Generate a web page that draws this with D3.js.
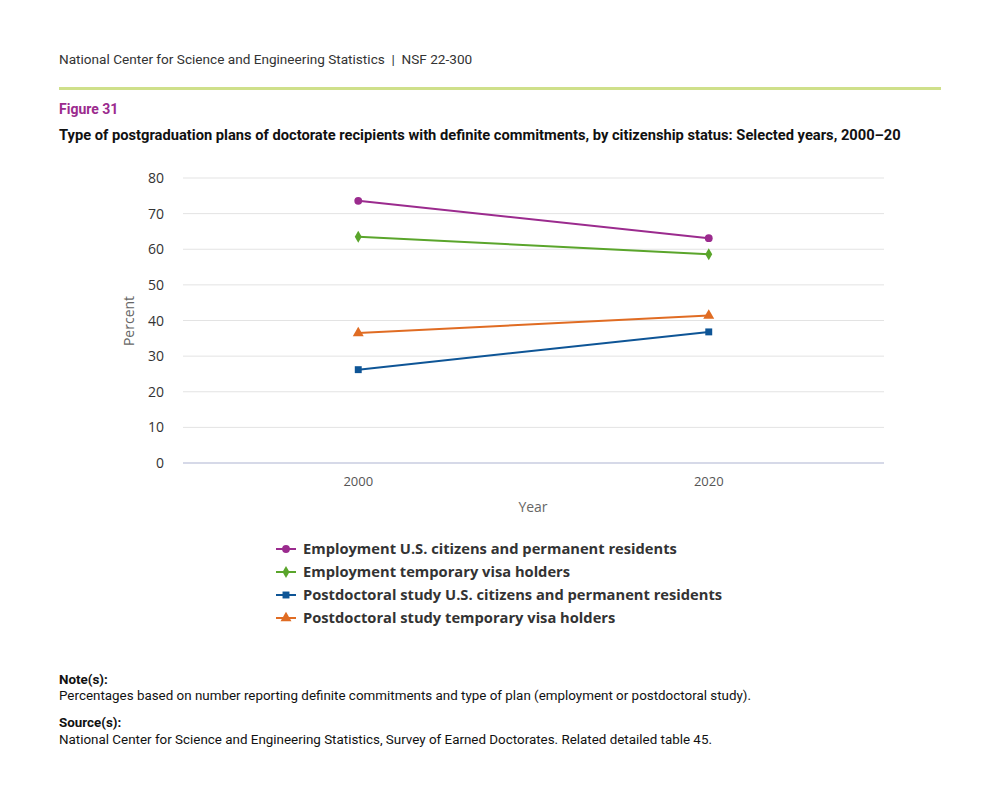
<!DOCTYPE html>
<html><head><meta charset="utf-8">
<script src="https://cdn.jsdelivr.net/npm/d3@7"></script>
<style>body{margin:0;background:#fff}</style>
</head><body>
<svg id="c" width="999" height="812"></svg>
<script>
const years = ["2000", "2020"]
const seriesNames = [
  "Employment U.S. citizens and permanent residents",
  "Employment temporary visa holders",
  "Postdoctoral study U.S. citizens and permanent residents",
  "Postdoctoral study temporary visa holders"
]
const employmentUS = [73.6, 63.1]
const employmentVisa = [63.5, 58.6]
const postdocUS = [26.2, 36.8]
const postdocVisa = [36.5, 41.4]
const yTicks = [0, 10, 20, 30, 40, 50, 60, 70, 80]

const colors = ["#9b2b8e", "#5aa52b", "#0e5596", "#e06c23"]
const symbols = [d3.symbolCircle, d3.symbolDiamond, d3.symbolSquare, d3.symbolTriangle]
const sizes = [48, 42, 48, 52]
const series = [employmentUS, employmentVisa, postdocUS, postdocVisa]

const svg = d3.select("#c")
const sans = "Roboto, sans-serif"
const open = "'Open Sans', sans-serif"

// header
svg.append("text").attr("x", 59).attr("y", 64).attr("font-family", sans).attr("font-size", 13.6)
  .attr("fill", "#333").style("white-space", "pre")
  .text("National Center for Science and Engineering Statistics  |  NSF 22-300")
svg.append("rect").attr("x", 59).attr("y", 87).attr("width", 882).attr("height", 3).attr("fill", "#cfe08a")
svg.append("text").attr("x", 59).attr("y", 114).attr("font-family", sans).attr("font-size", 14)
  .attr("font-weight", "bold").attr("fill", "#9b2b8e").text("Figure 31")
svg.append("text").attr("x", 59).attr("y", 140).attr("font-family", sans).attr("font-size", 14.7)
  .attr("font-weight", "bold").attr("fill", "#111")
  .text("Type of postgraduation plans of doctorate recipients with definite commitments, by citizenship status: Selected years, 2000–20")

const x = d3.scalePoint().domain(years).range([183, 884]).padding(0.5)
const y = d3.scaleLinear().domain([0, 80]).range([463, 178])

// grid
svg.append("g").selectAll("line").data(yTicks.filter(d => d > 0)).join("line")
  .attr("x1", 183).attr("x2", 884).attr("y1", d => y(d)).attr("y2", d => y(d))
  .attr("stroke", "#e3e3e3")
svg.append("line").attr("x1", 183).attr("x2", 884).attr("y1", y(0)).attr("y2", y(0))
  .attr("stroke", "#c8cde0").attr("stroke-width", 1.5)

svg.append("g").selectAll("text").data(yTicks).join("text")
  .attr("x", 164).attr("y", d => y(d) + 5).attr("text-anchor", "end")
  .attr("font-family", open).attr("font-size", 14).attr("fill", "#333").text(d => d)
svg.append("g").selectAll("text").data(years).join("text")
  .attr("x", d => x(d)).attr("y", 486).attr("text-anchor", "middle")
  .attr("font-family", open).attr("font-size", 13).attr("fill", "#555").text(d => d)
svg.append("text").attr("x", 533).attr("y", 512).attr("text-anchor", "middle")
  .attr("font-family", open).attr("font-size", 14).attr("fill", "#666").text("Year")
svg.append("text").attr("transform", "translate(134,321) rotate(-90)").attr("text-anchor", "middle")
  .attr("font-family", open).attr("font-size", 14).attr("fill", "#666").text("Percent")

const line = d3.line().x((d, i) => x(years[i])).y(d => y(d))
series.forEach((s, k) => {
  svg.append("path").attr("d", line(s)).attr("fill", "none").attr("stroke", colors[k]).attr("stroke-width", 2)
  svg.append("g").selectAll("path").data(s).join("path")
    .attr("transform", (d, i) => `translate(${x(years[i])},${y(d)})`)
    .attr("d", d3.symbol(symbols[k], sizes[k])).attr("fill", colors[k])
})

// legend
const lg = svg.append("g").selectAll("g").data(seriesNames).join("g")
  .attr("transform", (d, i) => `translate(276,${549 + i * 23})`)
lg.append("line").attr("x1", 0).attr("x2", 20).attr("stroke", (d, i) => colors[i]).attr("stroke-width", 2)
lg.append("path").attr("transform", "translate(10,0)")
  .attr("d", (d, i) => d3.symbol(symbols[i], sizes[i])()).attr("fill", (d, i) => colors[i])
lg.append("text").attr("x", 27).attr("y", 5).attr("font-family", open).attr("font-size", 14.7)
  .attr("font-weight", "bold").attr("fill", "#333").text(d => d)

// notes
const notes = [
  [684, "Note(s):", true], [700, "Percentages based on number reporting definite commitments and type of plan (employment or postdoctoral study).", false],
  [727, "Source(s):", true], [744, "National Center for Science and Engineering Statistics, Survey of Earned Doctorates. Related detailed table 45.", false]
]
svg.append("g").selectAll("text").data(notes).join("text")
  .attr("x", 59).attr("y", d => d[0]).attr("font-family", sans).attr("font-size", 13.4)
  .attr("font-weight", d => d[2] ? "bold" : "normal").attr("fill", "#111").text(d => d[1])
</script>
</body></html>
